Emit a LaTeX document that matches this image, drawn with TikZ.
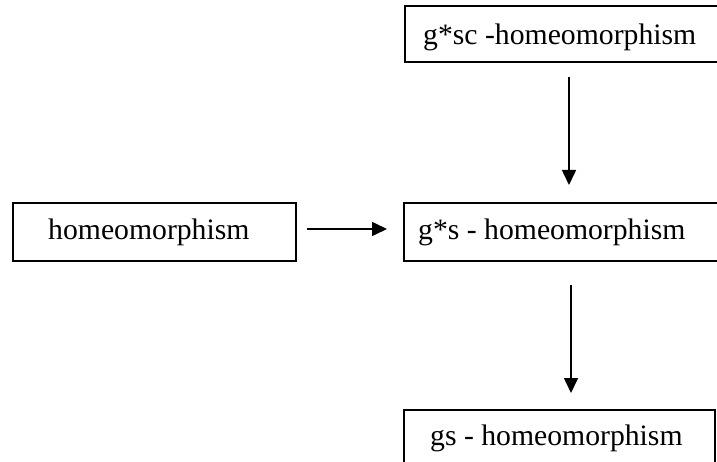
\documentclass[tikz,border=0pt]{standalone}
\usepackage{fontspec}
\setmainfont{Liberation Serif}
\usetikzlibrary{arrows.meta}
\begin{document}
\begin{tikzpicture}[x=1pt,y=-1pt,
  box/.style={draw=black,line width=1.6pt,rectangle,inner sep=0pt,anchor=north west},
  lbl/.style={anchor=base west,inner sep=0pt,font=\fontsize{29.7}{34}\selectfont},
  arr/.style={line width=1.6pt,-{Triangle[length=15pt,width=14pt]}}]
  \clip (0,0) rectangle (717,462);
  \fill[white] (0,0) rectangle (717,462);

  % boxes
  \node[box,minimum width=318pt,minimum height=56pt] (top) at (404,5) {};
  \node[box,minimum width=283pt,minimum height=58pt] (homeo) at (12,202) {};
  \node[box,minimum width=318pt,minimum height=58pt] (mid) at (403,202) {};
  \node[box,minimum width=311pt,minimum height=70pt] (bot) at (403,409) {};

  % labels
  \node[lbl] (ttop) at (423,45) {g*sc -homeomorphism};
  \node[lbl] (thomeo) at (48,240) {homeomorphism};
  \node[lbl] (tmid) at (418,240) {g*s - homeomorphism};
  \node[lbl] (tbot) at (430,445) {gs - homeomorphism};

  % connectors
  \coordinate (c1) at (569,0);
  \coordinate (c2) at (571,0);
  \coordinate (c3) at (0,229);
  \draw[arr,shorten <=14pt,shorten >=17pt] (top.south -| c1) -- (mid.north -| c1);
  \draw[arr,shorten <=10pt,shorten >=16pt] (homeo.east |- c3) -- (mid.west |- c3);
  \draw[arr,shorten <=23pt,shorten >=16pt] (mid.south -| c2) -- (bot.north -| c2);
\end{tikzpicture}
\end{document}
